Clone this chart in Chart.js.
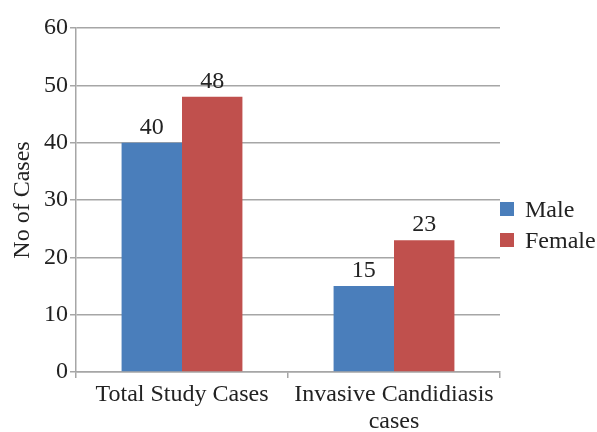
<!DOCTYPE html>
<html>
<head>
<meta charset="utf-8">
<script src="https://cdn.jsdelivr.net/npm/chart.js@4/dist/chart.umd.min.js"></script>
<style>
  html, body { margin: 0; padding: 0; background: #fff; }
  #wrap { position: relative; width: 597px; height: 432px; }
  #legend { position: absolute; left: 500px; top: 194px; font-family: 'Liberation Serif', 'Times New Roman', serif; font-size: 24px; color: #222; }
  .legend-row { display: flex; align-items: center; height: 30px; margin-bottom: 1px; }
  .legend-box { width: 14px; height: 14px; margin-right: 11px; }
</style>
</head>
<body>
<div id="wrap">
  <canvas id="casesChart" width="597" height="432"></canvas>
  <div id="legend"></div>
</div>
<script>
// data
const categories = ['Total Study Cases', ['Invasive Candidiasis', 'cases']];
const maleCases = [40, 15];
const femaleCases = [48, 23];
const seriesNames = ['Male', 'Female'];
const yTicks = [0, 10, 20, 30, 40, 50, 60];

const FONT = "'Liberation Serif', 'Times New Roman', serif";
const GRID = '#a6a6a6';
const COLORS = ['#4a7ebb', '#c0504d'];

// draws the value above every bar
const barValueLabels = {
    id: 'barValueLabels',
    afterDatasetsDraw(chart) {
        const ctx = chart.ctx;
        ctx.save();
        ctx.font = `24px ${FONT}`;
        ctx.fillStyle = '#222';
        ctx.textAlign = 'center';
        ctx.textBaseline = 'alphabetic';
        chart.data.datasets.forEach((ds, i) => {
            chart.getDatasetMeta(i).data.forEach((bar, j) => {
                ctx.fillText(ds.data[j], bar.x, bar.y - 9);
            });
        });
        ctx.restore();
    }
};

const chart = new Chart(document.getElementById('casesChart').getContext('2d'), {
    type: 'bar',
    data: {
        labels: categories,
        datasets: [
            { label: seriesNames[0], data: maleCases, backgroundColor: COLORS[0] },
            { label: seriesNames[1], data: femaleCases, backgroundColor: COLORS[1] }
        ]
    },
    options: {
        responsive: false,
        animation: false,
        layout: { padding: { top: 28, right: 97, left: 0, bottom: 0 } },
        datasets: { bar: { categoryPercentage: 0.57, barPercentage: 1.0 } },
        plugins: {
            legend: { display: false },
            tooltip: { enabled: false }
        },
        scales: {
            x: {
                grid: { drawOnChartArea: false, offset: true, color: GRID, lineWidth: 1.5, tickLength: 6 },
                border: { color: GRID, width: 1.5 },
                ticks: { font: { family: FONT, size: 24, lineHeight: 1.1 }, color: '#222', maxRotation: 0, padding: 4 },
                afterFit(scale) { scale.height = 60; }
            },
            y: {
                min: 0,
                max: 60,
                afterBuildTicks(scale) { scale.ticks = yTicks.map(v => ({ value: v })); },
                grid: { color: GRID, lineWidth: 1.5, tickLength: 6 },
                border: { color: GRID, width: 1.5 },
                ticks: { font: { family: FONT, size: 24 }, color: '#222', padding: 2 },
                title: { display: true, text: 'No of Cases', font: { family: FONT, size: 24 }, color: '#222', padding: { top: 8, bottom: 0 } },
                afterFit(scale) { scale.width = 76; }
            }
        }
    },
    plugins: [barValueLabels]
});

// legend built from the dataset names and colours
const legendEl = document.getElementById('legend');
chart.data.datasets.forEach(ds => {
    const row = document.createElement('div');
    row.className = 'legend-row';
    const box = document.createElement('span');
    box.className = 'legend-box';
    box.style.background = ds.backgroundColor;
    const txt = document.createElement('span');
    txt.textContent = ds.label;
    row.appendChild(box);
    row.appendChild(txt);
    legendEl.appendChild(row);
});
</script>
</body>
</html>
